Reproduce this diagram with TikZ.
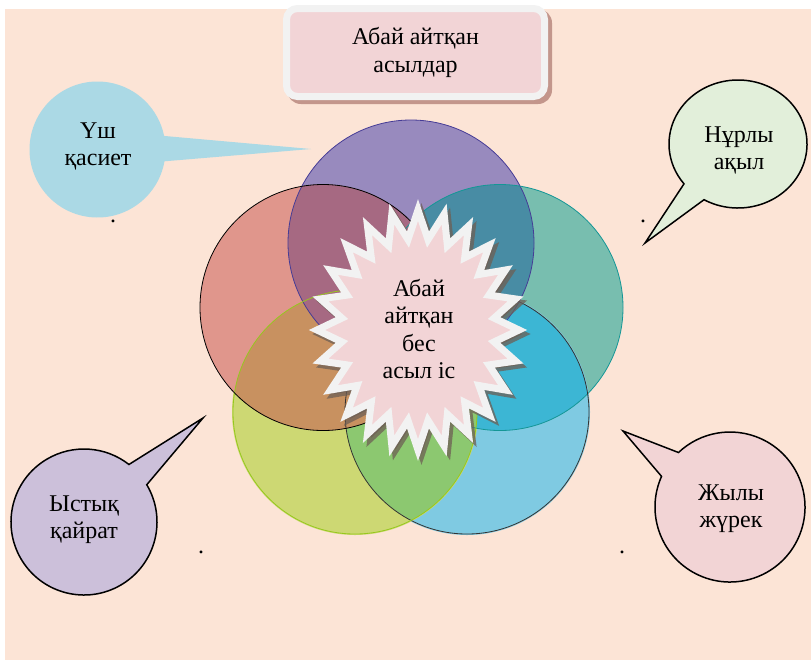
\documentclass[tikz,border=0pt]{standalone}
\usepackage{fontspec}
\setmainfont{Liberation Serif}
\usetikzlibrary{calc}
\definecolor{bgc}{RGB}{252,228,214}
\definecolor{cpur}{RGB}{152,138,190}
\definecolor{cteal}{RGB}{120,190,175}
\definecolor{cblue}{RGB}{127,202,226}
\definecolor{cyel}{RGB}{205,216,115}
\definecolor{cred}{RGB}{224,150,140}
\definecolor{opt}{RGB}{72,140,164}
\definecolor{otb}{RGB}{60,182,212}
\definecolor{oby}{RGB}{140,200,112}
\definecolor{oyr}{RGB}{200,145,96}
\definecolor{orp}{RGB}{166,105,130}
\definecolor{bpur}{RGB}{70,60,150}
\definecolor{bteal}{RGB}{20,150,150}
\definecolor{byel}{RGB}{150,200,30}
\definecolor{pinkc}{RGB}{242,212,214}
\definecolor{rimc}{RGB}{242,242,242}
\definecolor{tshadow}{RGB}{195,150,140}
\definecolor{sshadow}{RGB}{110,95,85}
\definecolor{fillA}{RGB}{171,217,229}
\definecolor{fillB}{RGB}{226,239,218}
\definecolor{fillC}{RGB}{204,192,218}
\definecolor{fillD}{RGB}{242,212,213}
\tikzset{
  txt/.style={align=center, inner sep=0pt, font=\fontsize{24}{27.5}\selectfont},
  venn/.style={circle, minimum size=246pt, inner sep=0pt},
  vline/.style={line width=0.8pt},
  callout/.style={line width=1.5pt, line join=miter},
  dotmark/.style={inner sep=0pt, anchor=base, font=\fontsize{24}{27.5}\selectfont}
}
\begin{document}
\begin{tikzpicture}[x=1pt,y=-1pt]
\useasboundingbox (0,0) rectangle (811,662);
\fill[white] (0,0) rectangle (811,662);
\fill[bgc] (5,9) rectangle (811,660);

% title box
\fill[tshadow, rounded corners=14pt] (287,9) rectangle (552,104);
\node[txt, rectangle, rounded corners=11pt, fill=pinkc, draw=rimc, line width=7pt,
      minimum width=258pt, minimum height=88pt] (title) at (415.5,52.5) {Абай айтқан\\асылдар};

% venn circles (opaque fills, overlaps painted explicitly)
\node[venn, fill=cpur] (cp) at (411,243) {};
\node[venn, fill=cteal] (ct) at (500,307.5) {};
\node[venn, fill=cblue] (cb) at (467,412) {};
\node[venn, fill=cyel] (cy) at (355,412) {};
\node[venn, fill=cred] (cr) at (323,307.5) {};
\begin{scope}
  \clip (411,243) circle[radius=123];
  \fill[opt] (500,307.5) circle[radius=123];
\end{scope}
\begin{scope}
  \clip (500,307.5) circle[radius=123];
  \fill[otb] (467,412) circle[radius=122];
\end{scope}
\begin{scope}
  \clip (467,412) circle[radius=122];
  \fill[oby] (355,412) circle[radius=122];
\end{scope}
\begin{scope}
  \clip (355,412) circle[radius=122];
  \fill[oyr] (323,307.5) circle[radius=123];
\end{scope}
\begin{scope}
  \clip (323,307.5) circle[radius=123];
  \fill[orp] (411,243) circle[radius=123];
\end{scope}
\draw[vline, bpur] (cp.center) circle[radius=123];
\draw[vline, bteal] (ct.center) circle[radius=123];
\draw[vline, black!80] (cb.center) circle[radius=122];
\draw[vline, byel] (cy.center) circle[radius=122];
\draw[vline, black] (cr.center) circle[radius=123];

% star shadow
\begin{scope}[shift={(421.5,334)}, xscale=101, yscale=120]
\draw[fill=sshadow, draw=sshadow, line width=7pt, line join=miter, opacity=0.75]
  (90:1) \foreach \i in {1,...,47}{ -- ({90+7.5*\i}:{0.88+0.12*cos(180*\i)}) } -- cycle;
\end{scope}
% star
\begin{scope}[shift={(418,330)}, xscale=101, yscale=120]
\draw[fill=pinkc, draw=rimc, line width=7pt, line join=miter]
  (90:1) \foreach \i in {1,...,47}{ -- ({90+7.5*\i}:{0.88+0.12*cos(180*\i)}) } -- cycle;
\end{scope}
\node[txt] (center) at (419,329) {Абай\\айтқан\\бес\\асыл іс};

% callout 1 (top-left)
\coordinate (c1) at (97.5,149.5);
\coordinate (t1) at (311,149);
\fill[fillA] ($(c1)+({68*cos(-11.5)},{68*sin(-11.5)})$) -- (t1)
  -- ($(c1)+({68*cos(10)},{68*sin(10)})$) arc[start angle=10, end angle=348.5, radius=68] -- cycle;
\node[txt] (usq) at (98,146.5) {Үш\\қасиет};

% callout 2 (top-right)
\coordinate (c2) at (738,144);
\coordinate (t2) at (645,243);
\filldraw[callout, fill=fillB] ($(c2)+({69*cos(141.5)},{64*sin(141.5)})$) -- (t2)
  -- ($(c2)+({69*cos(119.5)},{64*sin(119.5)})$) arc[start angle=119.5, end angle=-218.5, x radius=69, y radius=64] -- cycle;
\node[txt] (nur) at (739,150.5) {Нұрлы\\ақыл};

% callout 3 (bottom-left)
\coordinate (c3) at (84,522);
\coordinate (t3) at (203,418);
\filldraw[callout, fill=fillC] ($(c3)+({73*cos(-52)},{73*sin(-52)})$) -- (t3)
  -- ($(c3)+({73*cos(-30.7)},{73*sin(-30.7)})$) arc[start angle=-30.7, end angle=308, radius=73] -- cycle;
\node[txt] (ys) at (84,519.5) {Ыстық\\қайрат};

% callout 4 (bottom-right)
\coordinate (c4) at (730,507);
\coordinate (t4) at (623,431);
\filldraw[callout, fill=fillD] ($(c4)+({75*cos(226.6)},{75*sin(226.6)})$) -- (t4)
  -- ($(c4)+({75*cos(204.1)},{75*sin(204.1)})$) arc[start angle=204.1, end angle=-133.4, radius=75] -- cycle;
\node[txt] (zh) at (731,508.5) {Жылы\\жүрек};

% stray periods
\node[dotmark] (d1) at (113,222.5) {.};
\node[dotmark] (d2) at (643,222.5) {.};
\node[dotmark] (d3) at (201,553.5) {.};
\node[dotmark] (d4) at (622,553.5) {.};
\end{tikzpicture}
\end{document}
